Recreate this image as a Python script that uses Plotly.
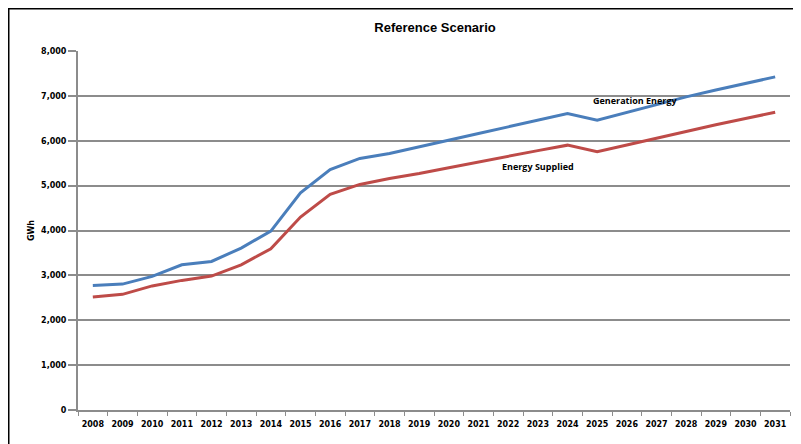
import plotly.graph_objects as go

years = [str(y) for y in range(2008, 2032)]
generation_energy = [2777, 2806, 2978, 3236, 3311, 3608, 3987, 4840, 5360, 5606, 5717,
                     5870, 6010, 6160, 6310, 6460, 6608, 6459, 6630, 6800, 6978, 7130, 7280, 7423]
energy_supplied = [2517, 2577, 2765, 2888, 2984, 3236, 3593, 4300, 4804, 5027, 5160,
                   5270, 5400, 5530, 5650, 5780, 5902, 5753, 5905, 6060, 6214, 6355, 6495, 6635]
y_ticks = [0, 1000, 2000, 3000, 4000, 5000, 6000, 7000, 8000]

fig = go.Figure()
fig.add_trace(go.Scatter(x=years, y=generation_energy, mode="lines",
                         line=dict(color="#4a7ebb", width=3), name="Generation Energy"))
fig.add_trace(go.Scatter(x=years, y=energy_supplied, mode="lines",
                         line=dict(color="#be4b48", width=3), name="Energy Supplied"))

tick_font = dict(family="DejaVu Sans", size=8, color="#000", weight="bold")

# page body has an 8px default margin, so figure coords = screen coords - 8
fig.update_layout(
    width=801, height=444,
    margin=dict(l=70, r=19, t=43, b=42),
    paper_bgcolor="white", plot_bgcolor="white",
    showlegend=False,
    title=dict(text="<b>Reference Scenario</b>", x=427/801, xanchor="center",
               y=1 - 19/444, yanchor="middle",
               font=dict(family="Liberation Sans", size=13, color="#000")),
    xaxis=dict(type="category", showgrid=False, showline=True, linecolor="#8c8c8c", linewidth=2,
               ticks="outside", tickson="boundaries", ticklen=4, tickcolor="#8c8c8c", tickwidth=1,
               tickfont=tick_font, range=[-0.5, 23.5], ticklabelstandoff=5,
               tickangle=0, automargin=False),
    yaxis=dict(range=[0, 8000], tickvals=y_ticks, tickformat=",", showgrid=True,
               gridcolor="#8c8c8c", gridwidth=1.5, showline=True, linecolor="#8c8c8c", linewidth=2,
               ticks="outside", ticklen=8, tickcolor="#8c8c8c", tickwidth=1.5, tickfont=tick_font,
               zeroline=False, automargin=False,
               title=dict(text="<b>GWh</b>", font=dict(family="DejaVu Sans", size=8, color="#000"),
                          standoff=5)),
    annotations=[
        dict(x=years.index("2026"), y=6886, text="<b>Generation Energy</b>", showarrow=False,
             xanchor="center", yanchor="middle", xshift=9,
             font=dict(family="Open Sans", size=9, color="#000")),
        dict(x=years.index("2023"), y=5422, text="<b>Energy Supplied</b>", showarrow=False,
             xanchor="center", yanchor="middle", xshift=0,
             font=dict(family="Open Sans", size=9, color="#000")),
    ],
    shapes=[dict(type="rect", xref="paper", yref="paper",
                 x0=(0.75 - 70) / 712, x1=(789 - 70) / 712,
                 y0=-0.3, y1=(402 - 0.75) / 359,
                 line=dict(color="#000", width=1.5), layer="below")],
)

fig.write_html("out.html")
